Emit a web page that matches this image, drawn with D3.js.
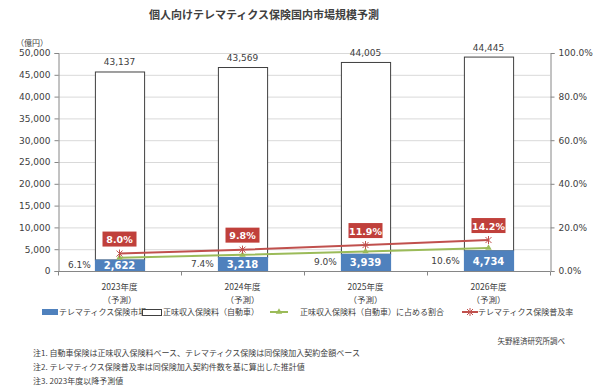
<!DOCTYPE html>
<html>
<head>
<meta charset="utf-8">
<script src="https://cdn.jsdelivr.net/npm/d3@7"></script>
<style>
  body { margin: 0; background: #fff; }
  svg { display: block; }
  text { font-family: "DejaVu Sans", "Noto Sans CJK JP", sans-serif; }
  .jp { font-family: "Noto Sans CJK JP", sans-serif; }
</style>
</head>
<body>
<div id="chart"></div>
<script>
// data
const years = ["2023年度", "2024年度", "2025年度", "2026年度"];
const telematics = [2622, 3218, 3939, 4734];          // テレマティクス保険市場 (億円)
const premiums = [43137, 43569, 44005, 44445];        // 正味収入保険料（自動車）
const shareRate = [6.1, 7.4, 9.0, 10.6];              // 占める割合 (%)
const penetration = [8.0, 9.8, 11.9, 14.2];           // 普及率 (%)
const leftTicks = [0, 5000, 10000, 15000, 20000, 25000, 30000, 35000, 40000, 45000, 50000];
const rightTicks = [0, 20, 40, 60, 80, 100];
const notes = [
  "注1. 自動車保険は正味収入保険料ベース、テレマティクス保険は同保険加入契約金額ベース",
  "注2. テレマティクス保険普及率は同保険加入契約件数を基に算出した推計値",
  "注3. 2023年度以降予測値"
];

const W = 600, H = 392;
const margin = {top: 53, right: 50, bottom: 121, left: 58};
const blue = "#4f81bd", red = "#c0504d", green = "#9bbb59";

const svg = d3.select("#chart").append("svg")
    .attr("width", W).attr("height", H);

const x = d3.scaleBand().domain(years)
    .range([margin.left, W - margin.right]).paddingInner(0.6).paddingOuter(0.3);
const y = d3.scaleLinear().domain([0, 50000]).range([H - margin.bottom, margin.top]);
const y2 = d3.scaleLinear().domain([0, 100]).range([H - margin.bottom, margin.top]);
const x0 = margin.left, x1 = W - margin.right;

// title
svg.append("text").attr("class", "jp")
    .attr("x", 264).attr("y", 19)
    .attr("text-anchor", "middle")
    .style("font-size", "11px").style("font-weight", "bold").style("fill", "#404040")
    .text("個人向けテレマティクス保険国内市場規模予測");

// gridlines
svg.append("g").selectAll("line")
    .data(leftTicks.slice(1))
    .join("line")
    .attr("x1", x0).attr("x2", x1)
    .attr("y1", d => y(d) + 0.5).attr("y2", d => y(d) + 0.5)
    .attr("stroke", "#d9d9d9");

// left axis
const gl = svg.append("g").attr("transform", `translate(${x0 + 0.5},0)`)
    .call(d3.axisLeft(y).tickValues(leftTicks).tickSize(4).tickPadding(4)
        .tickFormat(d3.format(",")));
gl.select(".domain").attr("stroke", "#868686");
gl.selectAll(".tick line").attr("stroke", "#868686");
gl.selectAll("text").style("font-size", "9px").style("fill", "#404040").style("font-family", null);

svg.append("text").attr("class", "jp")
    .attr("x", 32).attr("y", 46).attr("text-anchor", "middle")
    .style("font-size", "8px").style("fill", "#404040")
    .text("（億円）");

// right axis
const gr = svg.append("g").attr("transform", `translate(${x1 + 0.5},0)`)
    .call(d3.axisRight(y2).tickValues(rightTicks).tickSize(4).tickPadding(4)
        .tickFormat(d => d.toFixed(1) + "%"));
gr.select(".domain").attr("stroke", "#868686");
gr.selectAll(".tick line").attr("stroke", "#868686");
gr.selectAll("text").style("font-size", "9px").style("fill", "#404040");

// bottom axis line with ticks between categories
const base = y(0) + 0.5;
svg.append("line").attr("x1", x0).attr("x2", x1).attr("y1", base).attr("y2", base)
    .attr("stroke", "#868686");
const step = x.step();
svg.append("g").selectAll("line")
    .data(d3.range(years.length + 1))
    .join("line")
    .attr("x1", i => x0 + i * step + 0.5).attr("x2", i => x0 + i * step + 0.5)
    .attr("y1", base).attr("y2", base + 4)
    .attr("stroke", "#868686");

// category labels
const cat = svg.append("g").selectAll("g").data(years).join("g");
cat.append("text").attr("class", "jp")
    .attr("x", d => x(d) + x.bandwidth() / 2).attr("y", 290)
    .attr("text-anchor", "middle").style("font-size", "8.5px").style("fill", "#404040")
    .text(d => d);
cat.append("text").attr("class", "jp")
    .attr("x", d => x(d) + x.bandwidth() / 2).attr("y", 303)
    .attr("text-anchor", "middle").style("font-size", "8.5px").style("fill", "#404040")
    .text("（予測）");

// bars
const bars = svg.append("g").selectAll("g").data(years).join("g");
bars.append("rect")
    .attr("x", d => x(d) + 0.5)
    .attr("y", (d, i) => y(telematics[i] + premiums[i]) + 0.5)
    .attr("width", x.bandwidth())
    .attr("height", (d, i) => y(telematics[i]) - y(telematics[i] + premiums[i]))
    .attr("fill", "#fff").attr("stroke", "#404040").attr("stroke-width", 1);
bars.append("rect")
    .attr("x", d => x(d))
    .attr("y", (d, i) => y(telematics[i]))
    .attr("width", x.bandwidth() + 1)
    .attr("height", (d, i) => y(0) - y(telematics[i]))
    .attr("fill", blue);

// value labels
bars.append("text")
    .attr("x", d => x(d) + x.bandwidth() / 2)
    .attr("y", (d, i) => y(telematics[i] + premiums[i]) - 6)
    .attr("text-anchor", "middle").style("font-size", "9px").style("fill", "#404040")
    .text((d, i) => d3.format(",")(premiums[i]));
bars.append("text")
    .attr("x", d => x(d) + x.bandwidth() / 2)
    .attr("y", (d, i) => y(telematics[i] / 2) + 4)
    .attr("text-anchor", "middle").style("font-size", "10px").style("font-weight", "bold")
    .style("fill", "#fff")
    .text((d, i) => d3.format(",")(telematics[i]));

// lines
const cx = d => x(d) + x.bandwidth() / 2;
const line = d3.line().x(p => cx(p[0])).y(p => y2(p[1]));
svg.append("path").datum(years.map((d, i) => [d, shareRate[i]]))
    .attr("d", line).attr("fill", "none").attr("stroke", green).attr("stroke-width", 2);
svg.append("path").datum(years.map((d, i) => [d, penetration[i]]))
    .attr("d", line).attr("fill", "none").attr("stroke", red).attr("stroke-width", 2);

// markers
svg.append("g").selectAll("path").data(years).join("path")
    .attr("transform", (d, i) => `translate(${cx(d)},${y2(shareRate[i])})`)
    .attr("d", d3.symbol(d3.symbolTriangle, 18))
    .attr("fill", green);
svg.append("g").selectAll("path").data(years).join("path")
    .attr("transform", (d, i) => `translate(${cx(d)},${y2(penetration[i])})`)
    .attr("d", "M-3,-3L3,3M-3,3L3,-3M0,-4L0,4")
    .attr("stroke", red).attr("stroke-width", 1).attr("fill", "none");

// share labels (left of bar)
svg.append("g").selectAll("text").data(years).join("text")
    .attr("x", d => x(d) - 4)
    .attr("y", (d, i) => y(telematics[i] / 2) + 3)
    .attr("text-anchor", "end").style("font-size", "9px").style("fill", "#404040")
    .text((d, i) => shareRate[i].toFixed(1) + "%");

// penetration labels in red boxes
const pl = svg.append("g").selectAll("g").data(years).join("g")
    .attr("transform", (d, i) => `translate(${cx(d)},${y2(penetration[i]) - 14})`);
pl.append("rect").attr("x", -17).attr("y", -8).attr("width", 34).attr("height", 15)
    .attr("fill", "#c0403b");
pl.append("text").attr("y", 3.5).attr("text-anchor", "middle")
    .style("font-size", "9.5px").style("font-weight", "bold").style("fill", "#fff")
    .text((d, i) => penetration[i].toFixed(1) + "%");

// legend
const lg = svg.append("g").attr("transform", "translate(0,313)");
lg.append("rect").attr("x", 42).attr("y", -4).attr("width", 16).attr("height", 6).attr("fill", blue);
lg.append("text").attr("class", "jp").attr("x", 59).attr("y", 2)
    .style("font-size", "8px").style("fill", "#404040").text("テレマティクス保険市場");
lg.append("rect").attr("x", 142.5).attr("y", -3.5).attr("width", 19).attr("height", 6)
    .attr("fill", "#fff").attr("stroke", "#404040");
lg.append("text").attr("class", "jp").attr("x", 163).attr("y", 2)
    .style("font-size", "8px").style("fill", "#404040").text("正味収入保険料（自動車）");
lg.append("line").attr("x1", 270).attr("x2", 288).attr("y1", -1).attr("y2", -1)
    .attr("stroke", green).attr("stroke-width", 2);
lg.append("path").attr("transform", "translate(279,-1)")
    .attr("d", d3.symbol(d3.symbolTriangle, 18)).attr("fill", green);
lg.append("text").attr("class", "jp").attr("x", 300).attr("y", 2)
    .style("font-size", "8px").style("fill", "#404040").text("正味収入保険料（自動車）に占める割合");
lg.append("line").attr("x1", 462).attr("x2", 478).attr("y1", -1).attr("y2", -1)
    .attr("stroke", red).attr("stroke-width", 2);
lg.append("path").attr("transform", "translate(470,-1)")
    .attr("d", "M-3,-3L3,3M-3,3L3,-3M0,-4L0,4")
    .attr("stroke", red).attr("stroke-width", 1).attr("fill", "none");
lg.append("text").attr("class", "jp").attr("x", 478).attr("y", 2)
    .style("font-size", "8px").style("fill", "#404040").text("テレマティクス保険普及率");

// source & notes
svg.append("text").attr("class", "jp")
    .attr("x", 565).attr("y", 344).attr("text-anchor", "end")
    .style("font-size", "7.5px").style("fill", "#404040").text("矢野経済研究所調べ");
svg.append("g").selectAll("text").data(notes).join("text")
    .attr("class", "jp")
    .attr("x", 33).attr("y", (d, i) => 356 + i * 14)
    .style("font-size", "8px").style("fill", "#404040")
    .text(d => d);
</script>
</body>
</html>
